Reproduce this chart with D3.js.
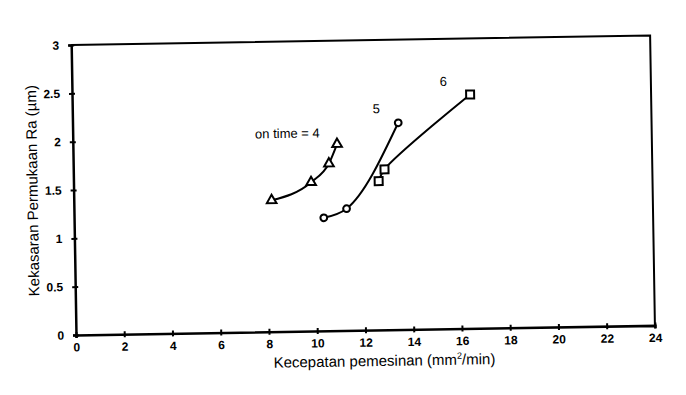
<!DOCTYPE html>
<html>
<head>
<meta charset="utf-8">
<script src="https://cdn.jsdelivr.net/npm/d3@7"></script>
<style>
  body { margin: 0; background: #fff; }
  text { font-family: "Liberation Sans", Arial, sans-serif; fill: #000; }
</style>
</head>
<body>
<div id="chart"></div>
<script>
// on time = 4 (triangles)
const xT4 = [8.2, 9.85, 10.6, 10.95];
const yT4 = [1.36, 1.54, 1.73, 1.93];
// on time = 5 (circles)
const xT5 = [10.35, 11.3, 13.5];
const yT5 = [1.17, 1.26, 2.14];
// on time = 6 (squares)
const xT6 = [12.65, 12.9, 16.5];
const yT6 = [1.54, 1.66, 2.42];

const seriesLabels = ['on time = 4', '5', '6'];
const labelX = [8.9, 12.6, 15.4];
const labelY = [2.05, 2.29, 2.56];

const xTicks = [0, 2, 4, 6, 8, 10, 12, 14, 16, 18, 20, 22, 24];
const yTicks = [0, 0.5, 1, 1.5, 2, 2.5, 3];

function renderChart(chartId) {
    const width = 686;
    const height = 395;
    const plotW = 579;
    const plotH = 290;
    const origin = { x: 76, y: 335 };
    const tilt = -0.95; // the scan is slightly rotated

    const svg = d3.select(`#${chartId}`)
        .append('svg')
        .attr('width', width)
        .attr('height', height);

    const g = svg.append('g')
        .attr('transform', `translate(${origin.x},${origin.y}) rotate(${tilt})`);

    const x = d3.scaleLinear().domain([0, 24]).range([0, plotW]);
    const y = d3.scaleLinear().domain([0, 3]).range([0, -plotH]);

    // frame (top + right)
    g.append('path')
        .attr('d', `M${x(0)},${y(3)}H${x(24)}V${y(0)}`)
        .attr('fill', 'none')
        .attr('stroke', '#000')
        .attr('stroke-width', 2);

    const xAxis = g.append('g')
        .call(d3.axisBottom(x).tickValues(xTicks).tickFormat(d3.format('d')).tickSize(3).tickPadding(5));
    xAxis.select('.domain').attr('stroke-width', 2.5);
    xAxis.selectAll('.tick line').attr('y1', -3).attr('y2', 3).attr('stroke-width', 2);
    xAxis.selectAll('.tick text')
        .attr('font-size', 12).attr('font-weight', 'bold')
        .attr('font-family', '"Liberation Sans", Arial, sans-serif');

    const yAxis = g.append('g')
        .call(d3.axisLeft(y).tickValues(yTicks).tickFormat(d => d).tickSize(3).tickPadding(9));
    yAxis.select('.domain').attr('stroke-width', 2.5);
    yAxis.selectAll('.tick line').attr('x1', -3).attr('x2', 3).attr('stroke-width', 2);
    yAxis.selectAll('.tick text')
        .attr('font-size', 12).attr('font-weight', 'bold')
        .attr('font-family', '"Liberation Sans", Arial, sans-serif');

    const xt = g.append('text')
        .attr('x', 308)
        .attr('y', 36)
        .attr('text-anchor', 'middle')
        .attr('font-size', 15);
    xt.append('tspan').text('Kecepatan pemesinan (mm');
    xt.append('tspan').attr('font-size', 9).attr('dy', -6).text('2');
    xt.append('tspan').attr('dy', 6).text('/min)');

    g.append('text')
        .attr('transform', 'translate(-36,-145) rotate(-90)')
        .attr('text-anchor', 'middle')
        .attr('font-size', 15)
        .text('Kekasaran Permukaan Ra (µm)');

    const series = [
        { xs: xT4, ys: yT4, symbol: d3.symbolTriangle, size: 40, curve: d3.curveMonotoneX },
        { xs: xT5, ys: yT5, symbol: d3.symbolCircle, size: 36, curve: d3.curveMonotoneX },
        { xs: xT6, ys: yT6, symbol: d3.symbolSquare, size: 64, curve: d3.curveCatmullRom },
    ];

    series.forEach((s, i) => {
        const pts = s.xs.map((v, j) => [v, s.ys[j]]);
        const line = d3.line()
            .x(d => x(d[0]))
            .y(d => y(d[1]))
            .curve(s.curve);

        g.append('path')
            .datum(pts)
            .attr('d', line)
            .attr('fill', 'none')
            .attr('stroke', '#000')
            .attr('stroke-width', 2);

        g.append('g')
            .selectAll('path')
            .data(pts)
            .join('path')
            .attr('transform', d => `translate(${x(d[0])},${y(d[1])})`)
            .attr('d', d3.symbol().type(s.symbol).size(s.size))
            .attr('fill', '#fff')
            .attr('stroke', '#000')
            .attr('stroke-width', 2);

        g.append('text')
            .attr('x', x(labelX[i]))
            .attr('y', y(labelY[i]))
            .attr('dy', '0.35em')
            .attr('text-anchor', 'middle')
            .attr('font-size', 13)
            .text(seriesLabels[i]);
    });
}

renderChart('chart');
</script>
</body>
</html>
